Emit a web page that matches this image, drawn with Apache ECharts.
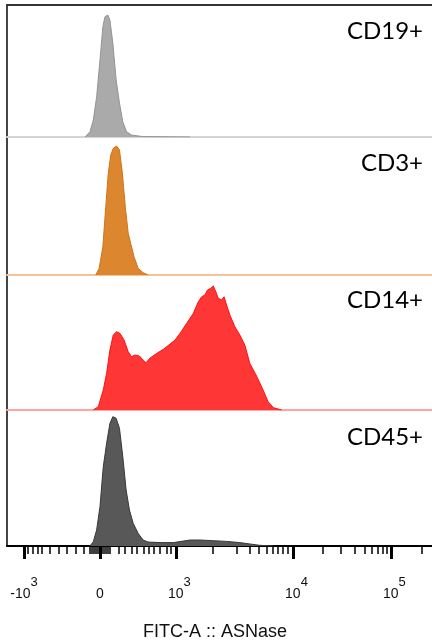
<!DOCTYPE html>
<html><head><meta charset="utf-8">
<script src="https://cdn.jsdelivr.net/npm/echarts@6/dist/echarts.min.js"></script>
<style>html,body{margin:0;padding:0;background:#fff}#c{width:432px;height:644px}</style>
</head><body><div id="c"></div>
<script>
// Panel names (top to bottom)
const panelNames = ['CD19+', 'CD3+', 'CD14+', 'CD45+'];

// Histograms: display channel (0-1024 biexponential scale) and % of mode
const cd19Channel = [188,200,208,216,224,231,236,243,248,255,263,271,279,288,300,316,328,441];
const cd19Count   = [0,4,12.9,30.5,58.3,83.6,91.1,92.4,88.6,71.2,43.2,25.8,11.6,4,1.5,0.8,0.3,0];

const cd3Channel = [214,222,231,238,244,250,256,264,271,278,285,292,298,306,316,328,340];
const cd3Count   = [0,4.8,20.5,49.5,73.7,87,91.8,93.5,90.6,73.7,49.5,30.2,23,13.3,4.8,1.7,0];

const cd14Channel = [208,220,232,240,248,256,264,272,282,292,300,308,319,328,335,344,361,377,393,405,417,433,449,461,469,477,483,491,497,503,509,517,523,529,537,549,561,573,585,602,617,629,642,662];
const cd14Count   = [0,2.5,14.8,27.2,44.4,55.6,58,56.8,51.9,43.2,39.5,40.7,40,37,35,38.3,42,45,48.9,51.9,56.8,64.2,71.6,80.2,83.9,85.2,88.9,90.1,91.9,87.7,82.7,81.5,83.9,77.8,70.4,61.7,55.6,48.1,34.6,24.7,14.8,6.2,1.7,0];

const cd45Channel = [200,208,216,224,232,240,248,255,263,271,279,287,295,304,316,328,340,369,401,441,465,497,529,561,585,609,642];
const cd45Count   = [0,3.2,11.8,28.9,58.3,75.5,90.2,95.1,93.9,86.5,65.7,41.2,26.5,16.7,9.3,4.4,2.9,2.5,2.5,4.4,4.4,3.9,3.4,2.5,1.5,0.5,0];

// Axis ticks (channel positions) and labels
const majorTicks  = [41, 224, 407, 689, 925];
const majorLabels = ['-10^3', '0', '10^3', '10^4', '10^5'];
const minorTicks  = [51,63,74,84,104,125,144,166,184,
  200,205,210,214,219,229,234,238,243,248,
  270,284,301,313,330,342,354,369,385,395,
  496,554,585,607,626,641,653,665,677,
  761,805,838,862,879,894,906,915,1000];

const channels = [cd19Channel, cd3Channel, cd14Channel, cd45Channel];
const counts = [cd19Count, cd3Count, cd14Count, cd45Count];

const layout = [
  {top: 5, height: 132},
  {top: 137, height: 138},
  {top: 275, height: 135},
  {top: 410, height: 136}
];
const fills = ['#aaaaaa', '#dc8730', '#ff3636', '#585858'];
const edges = ['#949494', '#cf7416', '#ff1010', '#383838'];
const baseColors = ['#d4d4d4', '#f3c395', '#ffa3a3', '#000000'];
const labelTops = [19, 151, 288, 425];

const sans = '"Liberation Sans", Arial, sans-serif';

const grids = layout.map(l => ({left: 7, right: 0, top: l.top, height: l.height}));
const xAxes = [];
const yAxes = [];
const series = [];
const plain = {axisTick: {show: false}, axisLabel: {show: false}, splitLine: {show: false}};

// x axes 0..2: panel baselines
for (let i = 0; i < 3; i++) {
  xAxes.push(Object.assign({
    type: 'value', gridIndex: i, min: 0, max: 1024, position: 'bottom',
    axisLine: {show: true, onZero: false, lineStyle: {color: baseColors[i], width: 2}}
  }, plain));
}
// x axis 3: bottom axis with major ticks + labels
xAxes.push({
  type: 'value', gridIndex: 3, min: 0, max: 1024, position: 'bottom',
  name: 'FITC-A :: ASNase', nameLocation: 'middle', nameGap: 77,
  nameTextStyle: {fontFamily: sans, fontSize: 18, color: '#111', padding: [0, 9, 0, 0]},
  axisLine: {show: true, onZero: false, lineStyle: {color: '#000', width: 2}},
  axisTick: {show: true, customValues: majorTicks, length: 13, lineStyle: {color: '#000', width: 3}},
  axisLabel: {
    show: true, customValues: majorTicks, margin: 30,
    formatter: v => {
      const lab = majorLabels[majorTicks.indexOf(v)];
      if (!lab || lab.indexOf('^') < 0) return '{b|' + (lab || '') + '}';
      const parts = lab.split('^');
      if (parts[0][0] === '-') return '{b|' + parts[0] + '}{s|' + parts[1] + '}';
      return '{p|}{b|' + parts[0] + '}{s|' + parts[1] + '}';
    },
    rich: {
      b: {fontFamily: sans, fontSize: 14, color: '#111', lineHeight: 25, verticalAlign: 'bottom'},
      s: {fontFamily: sans, fontSize: 13, color: '#111', lineHeight: 25, verticalAlign: 'top'},
      p: {width: 7}
    }
  },
  splitLine: {show: false}
});
// x axis 4: top border
xAxes.push(Object.assign({
  type: 'value', gridIndex: 0, min: 0, max: 1024, position: 'top',
  axisLine: {show: true, onZero: false, lineStyle: {color: '#333', width: 2}}
}, plain));
// x axis 5: bottom minor ticks
xAxes.push({
  type: 'value', gridIndex: 3, min: 0, max: 1024, position: 'bottom',
  axisLine: {show: false, onZero: false},
  axisTick: {show: true, customValues: minorTicks, length: 8, lineStyle: {color: '#000', width: 1.5}},
  axisLabel: {show: false}, splitLine: {show: false}
});

for (let i = 0; i < 4; i++) {
  yAxes.push({
    type: 'value', gridIndex: i, min: 0, max: 100,
    axisLine: {show: true, lineStyle: {color: '#444', width: 2}},
    axisTick: {show: false}, axisLabel: {show: false}, splitLine: {show: false}
  });
  series.push({
    type: 'line', xAxisIndex: i, yAxisIndex: i,
    data: channels[i].map((c, k) => [c, counts[i][k]]),
    symbol: 'none', smooth: false, z: 3,
    lineStyle: {color: edges[i], width: 1},
    areaStyle: {color: fills[i], opacity: 1}
  });
}

const titles = panelNames.map((n, i) => ({
  text: n, right: 9, top: labelTops[i], padding: 0,
  textStyle: {fontFamily: 'Lato, "Open Sans", sans-serif', fontSize: 24, fontWeight: 'normal', color: '#000'}
}));

const chart = echarts.init(document.getElementById('c'), null, {renderer: 'canvas'});
chart.setOption({
  animation: false,
  backgroundColor: '#fff',
  title: titles,
  grid: grids,
  xAxis: xAxes,
  yAxis: yAxes,
  series: series
});
</script>
</body></html>
